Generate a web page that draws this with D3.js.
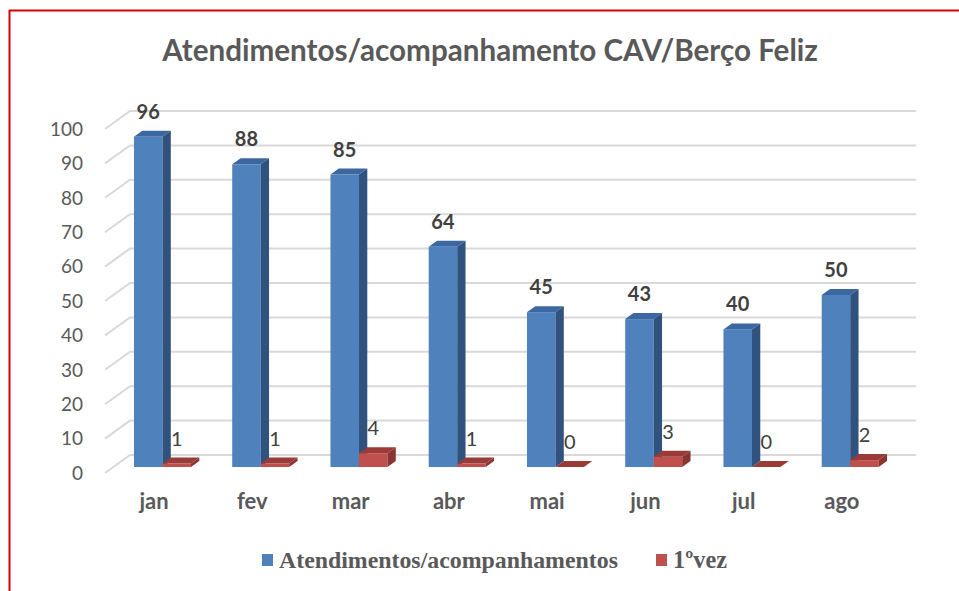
<!DOCTYPE html>
<html>
<head>
<meta charset="utf-8">
<script src="https://cdn.jsdelivr.net/npm/d3@7"></script>
<style>
  body { margin: 0; background: #fff; }
  svg { display: block; }
</style>
</head>
<body>
<svg id="chart" width="959" height="591"></svg>
<script>
const months = ["jan", "fev", "mar", "abr", "mai", "jun", "jul", "ago"];
const atendimentos = [96, 88, 85, 64, 45, 43, 40, 50];
const primeiraVez = [1, 1, 4, 1, 0, 3, 0, 2];
const yTicks = [0, 10, 20, 30, 40, 50, 60, 70, 80, 90, 100];
const seriesNames = ["Atendimentos/acompanhamentos", "1ºvez"];
const titleText = "Atendimentos/acompanhamento CAV/Berço Feliz";

// front face, top, side
const blueShades = ["#4f81bd", "#3d67a0", "#30527f"];
const redShades = ["#c0504d", "#9a3b38", "#8a3533"];

const svg = d3.select("#chart");

// depth of the 3d box
const depthX = 25, depthY = -18;

const x = d3.scaleBand()
  .domain(months)
  .range([105, 891])
  .paddingInner(0.42)
  .paddingOuter(0.21);

const inner = d3.scaleBand()
  .domain([0, 1])
  .range([0, x.bandwidth()]);

// y on the front plane of the box
const y = d3.scaleLinear().domain([0, 100]).range([473, 129]);

// red frame
svg.append("line")
  .attr("x1", 9).attr("x2", 959).attr("y1", 10.5).attr("y2", 10.5)
  .style("stroke", "#d40000").style("stroke-width", 2);
svg.append("line")
  .attr("x1", 9.5).attr("x2", 9.5).attr("y1", 10).attr("y2", 591)
  .style("stroke", "#d40000").style("stroke-width", 2);

// fits a text element to a width by changing its font size
function fitWidth(sel, width) {
  const node = sel.node();
  const size = parseFloat(sel.style("font-size"));
  const w = node.getComputedTextLength();
  sel.style("font-size", (size * width / w).toFixed(2) + "px");
}

// title
const title = svg.append("text")
  .attr("x", 490).attr("y", 61)
  .attr("text-anchor", "middle")
  .style("font-family", "Lato, 'Open Sans', sans-serif")
  .style("font-weight", "bold")
  .style("font-size", "26px")
  .style("fill", "#595959")
  .text(titleText);
fitWidth(title, 656);

// gridlines: side wall diagonal + back wall
const grid = svg.append("g").attr("class", "grid");
yTicks.forEach(function(t) {
  const y0 = y(t);
  grid.append("polyline")
    .attr("points", `${x.range()[0]},${y0} ${x.range()[0] + depthX},${y0 + depthY} ${x.range()[1] + depthX},${y0 + depthY}`)
    .style("fill", "none")
    .style("stroke", "#d9d9d9")
    .style("stroke-width", 2);
});

// y tick labels
svg.append("g").selectAll("text")
  .data(yTicks)
  .enter()
  .append("text")
  .attr("x", 83)
  .attr("y", d => y(d))
  .attr("dy", "0.36em")
  .attr("text-anchor", "end")
  .style("font-family", "Lato, 'Open Sans', sans-serif")
  .style("font-size", "19px")
  .style("fill", "#595959")
  .text(d => d);

// 3d bars sit in the middle third of the depth
const bx = depthX / 3, by = depthY / 3;

function bar3d(g, x0, v, shades) {
  const w = inner.bandwidth();
  const base = y(0) + by;
  const top = y(v) + by;
  const left = x0 + bx;
  g.append("rect")
    .attr("x", left).attr("y", top)
    .attr("width", w).attr("height", base - top)
    .style("fill", shades[0]);
  g.append("polygon")
    .attr("points", `${left},${top} ${left + bx},${top + by} ${left + w + bx},${top + by} ${left + w},${top}`)
    .style("fill", shades[1]);
  g.append("polygon")
    .attr("points", `${left + w},${top} ${left + w + bx},${top + by} ${left + w + bx},${base + by} ${left + w},${base}`)
    .style("fill", shades[2]);
  return { cx: left + w / 2, top: top };
}

const groups = svg.append("g").selectAll(".month")
  .data(months)
  .enter()
  .append("g")
  .attr("class", "month");

groups.each(function(m, i) {
  const g = d3.select(this);
  const b = bar3d(g, x(m) + inner(0), atendimentos[i], blueShades);
  const r = bar3d(g, x(m) + inner(1), primeiraVez[i], redShades);

  g.append("text")
    .attr("x", b.cx).attr("y", b.top - 18)
    .attr("text-anchor", "middle")
    .style("font-family", "Lato, 'Open Sans', sans-serif")
    .style("font-weight", "bold")
    .style("font-size", "20px")
    .style("fill", "#404040")
    .text(atendimentos[i]);

  g.append("text")
    .attr("x", r.cx).attr("y", r.top - 18)
    .attr("text-anchor", "middle")
    .style("font-family", "Lato, 'Open Sans', sans-serif")
    .style("font-size", "20px")
    .style("fill", "#404040")
    .text(primeiraVez[i]);
});

// category labels
svg.append("g").selectAll("text")
  .data(months)
  .enter()
  .append("text")
  .attr("x", d => x(d) + x.bandwidth() / 2)
  .attr("y", 509)
  .attr("text-anchor", "middle")
  .style("font-family", "Lato, 'Open Sans', sans-serif")
  .style("font-weight", "bold")
  .style("font-size", "22px")
  .style("fill", "#595959")
  .text(d => d);

// legend
const legendItems = [
  { name: seriesNames[0], color: blueShades[0], sx: 262, tx: 279, w: 339 },
  { name: seriesNames[1], color: redShades[0], sx: 656, tx: 673, w: 54 }
];
const legend = svg.append("g").attr("class", "legend");
legendItems.forEach(function(d) {
  legend.append("rect")
    .attr("x", d.sx).attr("y", 554)
    .attr("width", 11).attr("height", 12)
    .style("fill", d.color);
  const t = legend.append("text")
    .attr("x", d.tx).attr("y", 568)
    .style("font-family", "'Liberation Serif', 'Times New Roman', serif")
    .style("font-weight", "bold")
    .style("font-size", "23px")
    .style("fill", "#595959")
    .text(d.name);
  fitWidth(t, d.w);
});
</script>
</body>
</html>
